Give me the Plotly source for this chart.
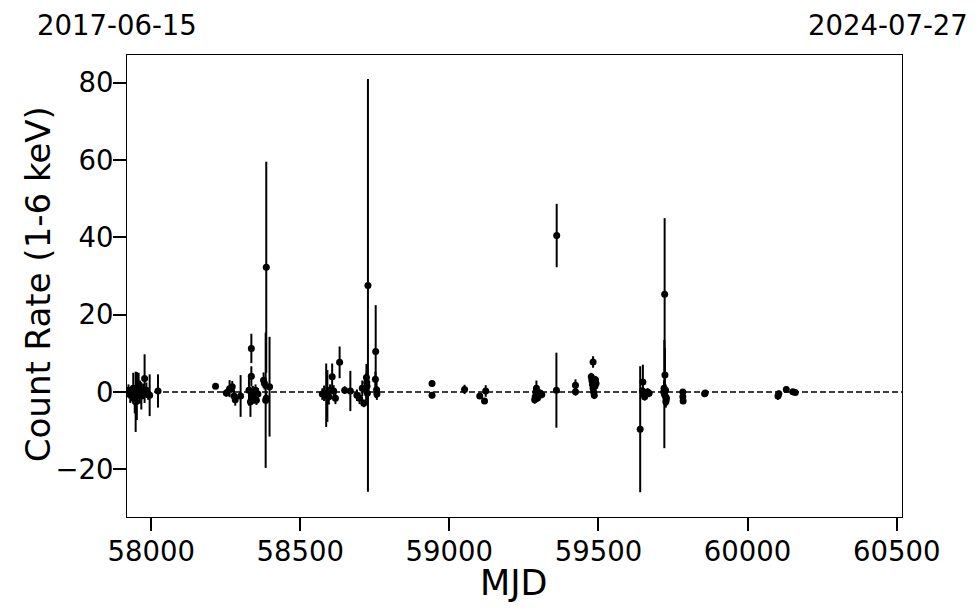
import plotly.graph_objects as go

# MJD, count rate, 1-sigma error
mjd = [
    57924, 57930, 57935, 57940, 57945, 57948, 57952, 57955, 57958, 57962, 57967, 57973, 57978, 57984, 57990, 57995, 58023,
    58216, 58252, 58263, 58272, 58278, 58282, 58300, 58328, 58333, 58336, 58336, 58341, 58345, 58350, 58353, 58358,
    58377, 58380, 58384, 58386, 58386, 58397,
    58574, 58580, 58587, 58591, 58596, 58600, 58607, 58612, 58618, 58632, 58649, 58668, 58690, 58699, 58708, 58713,
    58721, 58722, 58723, 58724, 58725, 58727, 58752, 58753, 58756, 58757,
    58942, 58942, 59051, 59102, 59118, 59122,
    59286, 59288, 59290, 59292, 59294, 59296, 59300, 59305, 59310,
    59359, 59360, 59423, 59423,
    59476, 59478, 59480, 59482, 59482, 59484, 59486, 59486, 59488, 59490, 59492,
    59640, 59648, 59649, 59652, 59655, 59660, 59665, 59670,
    59719, 59720, 59721, 59722, 59723, 59724, 59725, 59726, 59727, 59728,
    59783, 59783, 59784, 59856, 59858, 60102, 60105, 60130, 60152, 60160,
]
rate = [
    0.5, -0.8, -0.3, 1.0, -2.0, -2.5, -1.0, 0.8, 2.0, 0.0, -1.0, 0.2, 3.5, 0.5, -0.5, -0.8, 0.3,
    1.55, -0.2, 0.9, 1.4, -1.0, -2.0, -1.0, 0.5, -2.5, 4.1, 11.3, 0.1, -1.2, 0.5, -2.1, -0.5,
    3.1, 2.2, -2.1, -1.6, 32.3, 1.4,
    -0.5, -0.3, -0.8, -1.0, -1.2, 0.5, 4.0, 0.3, -1.6, 7.7, 0.5, 0.3, -0.8, -1.6, 1.0, -2.9,
    0.8, 3.8, 2.5, 1.5, -0.3, 27.6, 3.3, 10.5, 0.6, -0.5,
    2.25, -0.8, 0.7, -1.0, -2.3, 0.3,
    -2.0, -1.2, 0.0, 1.0, -0.5, -1.5, -0.8, -0.3, -0.6,
    0.5, 40.5, 1.8, 0.1,
    4.0, 3.0, 2.0, 7.8, 1.0, 0.0, 2.5, -0.8, 1.5, 3.2, 2.2,
    -9.6, 0.3, 2.6, -0.5, -1.2, -0.3, 0.0, -0.3,
    0.0, 1.0, -0.5, 25.3, 4.4, -1.0, 0.5, -2.5, -2.0, -1.5,
    0.0, -1.2, -2.3, -0.4, -0.2, -1.0, -0.4, 0.7, 0.1, -0.1,
]
err = [
    1.5, 2.0, 2.0, 4.0, 3.5, 7.8, 6.2, 4.0, 3.0, 3.0, 3.5, 2.0, 6.3, 2.0, 1.5, 5.4, 4.3,
    0.5, 1.0, 2.2, 1.5, 1.7, 1.5, 5.4, 4.0, 3.9, 2.6, 3.8, 1.5, 1.8, 1.5, 1.2, 1.5,
    2.0, 1.5, 17.5, 1.5, 27.3, 12.9,
    1.5, 2.0, 8.2, 6.7, 2.0, 1.5, 3.4, 1.5, 1.5, 4.1, 1.0, 5.2, 1.5, 1.5, 2.0, 1.0,
    4.0, 3.5, 3.0, 3.0, 3.0, 53.4, 2.0, 12.0, 2.0, 1.5,
    0.8, 0.8, 1.2, 0.8, 0.8, 1.5,
    1.0, 1.0, 1.0, 2.0, 1.0, 1.0, 1.0, 1.0, 1.0,
    9.7, 8.2, 1.5, 1.0,
    1.0, 1.0, 1.5, 1.5, 1.5, 1.0, 1.2, 1.0, 1.0, 1.0, 1.0,
    16.3, 1.0, 4.5, 1.0, 1.0, 1.0, 1.0, 1.0,
    1.5, 2.0, 14.0, 19.7, 7.0, 1.5, 1.5, 1.5, 1.0, 2.0,
    0.8, 0.8, 0.8, 0.8, 0.5, 1.0, 0.8, 0.8, 0.5, 0.5,
]

x_ticks = [58000, 58500, 59000, 59500, 60000, 60500]
y_ticks = [-20, 0, 20, 40, 60, 80]
x_range = [57919, 60518]
y_range = [-32.3, 87.2]
start_date = "2017-06-15"
end_date = "2024-07-27"
x_title = "MJD"
y_title = "Count Rate (1-6 keV)"

FONT = "DejaVu Sans"

fig = go.Figure()
fig.add_trace(go.Scatter(
    x=mjd, y=rate, mode="markers",
    marker=dict(color="black", size=7),
    error_y=dict(type="data", array=err, visible=True, color="black", thickness=2, width=0),
    showlegend=False,
))

fig.add_shape(type="line", xref="paper", yref="y", x0=0, x1=1, y0=0, y1=0,
              line=dict(color="black", width=1.5, dash="6px,3px"))

for txt, xp in [(start_date, -0.0123), (end_date, 0.982)]:
    fig.add_annotation(text=txt, xref="paper", yref="paper", x=xp, y=1.0655,
                       xanchor="center", yanchor="middle", showarrow=False,
                       font=dict(family=FONT, size=27.5, color="black"))

fig.add_annotation(text=x_title, xref="paper", yref="paper", x=0.499, y=-0.143,
                   xanchor="center", yanchor="middle", showarrow=False,
                   font=dict(family=FONT, size=35, color="black"))
fig.add_annotation(text=y_title, xref="paper", yref="paper", x=-0.1148, y=0.504,
                   xanchor="center", yanchor="middle", showarrow=False, textangle=-90,
                   font=dict(family=FONT, size=34, color="black"))

axis_common = dict(showgrid=False, zeroline=False, showline=True, linecolor="black", linewidth=1,
                   mirror=True, ticks="outside", ticklen=13, tickwidth=2, tickcolor="black",
                   automargin=False,
                   tickfont=dict(family=FONT, size=27.5, color="black"))

fig.update_xaxes(range=x_range, tickvals=x_ticks, tickformat="d", ticklabelstandoff=-3, **axis_common)
fig.update_yaxes(range=y_range, tickvals=y_ticks, ticklabelstandoff=-6, **axis_common)

fig.update_layout(
    width=972, height=605,
    margin=dict(l=119, r=78, t=47, b=96),
    plot_bgcolor="white", paper_bgcolor="white",
    font=dict(family=FONT, color="black"),
)

fig.write_html("out.html")
